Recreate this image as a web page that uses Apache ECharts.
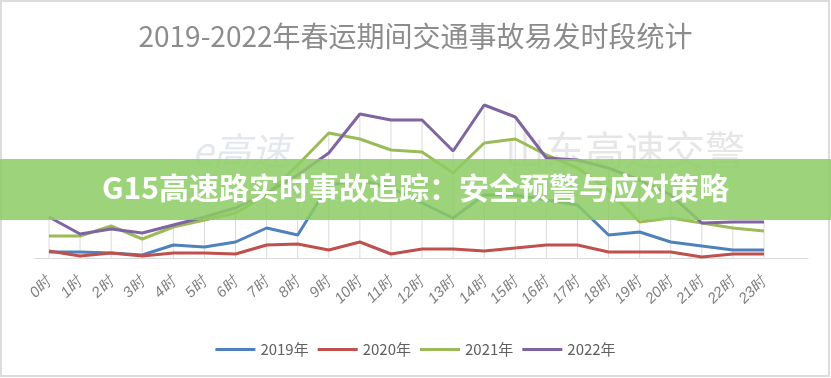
<!DOCTYPE html>
<html>
<head>
<meta charset="utf-8">
<script src="https://cdn.jsdelivr.net/npm/echarts@6/dist/echarts.min.js"></script>
<style>
  html, body { margin: 0; padding: 0; background: #fff; }
  #main { width: 831px; height: 378px; }
</style>
</head>
<body>
<div id="main"></div>
<script>
var hours = ['0时', '1时', '2时', '3时', '4时', '5时', '6时', '7时', '8时', '9时', '10时', '11时',
  '12时', '13时', '14时', '15时', '16时', '17时', '18时', '19时', '20时', '21时', '22时', '23时'];
var years = ['2019年', '2020年', '2021年', '2022年'];

var data2019 = [6, 6, 5, 3, 13, 11, 16, 30, 23, 73, 78, 70, 55, 40, 63, 63, 58, 53, 23, 26, 16, 12, 8, 8];
var data2020 = [7, 2, 5, 2, 5, 5, 4, 13, 14, 8, 16, 4, 9, 9, 7, 10, 13, 13, 6, 6, 6, 1, 4, 4];
var data2021 = [22, 22, 32, 19, 31, 38, 45, 63, 93, 125, 119, 108, 106, 85, 115, 119, 103, 90, 68, 36, 40, 35, 30, 27];
var data2022 = [41, 24, 29, 25, 33, 41, 50, 65, 83, 105, 144, 138, 138, 107, 153, 141, 100, 98, 90, 78, 63, 35, 36, 36];

var colors = ['#4f81bd', '#c0504d', '#9bbb59', '#8064a2'];

// drop lines go from the highest series down to the axis
var dropLines = hours.map(function (h, i) {
  return [i, Math.max(data2019[i], data2020[i], data2021[i], data2022[i])];
});

var myChart = echarts.init(document.getElementById('main'), null, { renderer: 'canvas' });

function lineSeries(name, values, color) {
  return {
    name: name,
    type: 'line',
    data: values,
    symbol: 'none',
    z: 3,
    lineStyle: { width: 3, color: color },
    itemStyle: { color: color }
  };
}

var option = {
  animation: false,
  backgroundColor: '#fff',
  title: {
    text: '2019-2022年春运期间交通事故易发时段统计',
    left: 'center',
    top: 17,
    textStyle: {
      fontFamily: 'Noto Sans CJK SC',
      fontWeight: 'normal',
      fontSize: 28,
      color: '#8c8c8c'
    }
  },
  legend: {
    data: years,
    top: 337,
    left: 'center',
    icon: 'rect',
    itemWidth: 40,
    itemHeight: 3,
    itemGap: 9,
    textStyle: { fontSize: 15, color: '#606060', fontFamily: 'Noto Sans CJK SC' }
  },
  grid: [
    { left: 49, right: 67, top: 98, bottom: 120 },
    { left: 35, right: 23, top: 98, bottom: 120 }
  ],
  xAxis: [
    {
      type: 'category',
      gridIndex: 0,
      data: hours,
      boundaryGap: false,
      axisLine: { show: false },
      axisTick: { show: false },
      axisLabel: {
        rotate: 45,
        margin: 21,
        fontSize: 15,
        fontStyle: 'italic',
        color: '#808080',
        interval: 0
      },
      splitLine: { show: false }
    },
    {
      type: 'value',
      gridIndex: 1,
      min: 0,
      max: 1,
      axisLine: { show: true, lineStyle: { color: '#d9d9d9', width: 1 } },
      axisTick: { show: false },
      axisLabel: { show: false },
      splitLine: { show: false }
    }
  ],
  yAxis: [
    { type: 'value', gridIndex: 0, min: 0, max: 160, show: false },
    { type: 'value', gridIndex: 1, min: 0, max: 1, show: false }
  ],
  graphic: [
    {
      type: 'rect',
      z: -10,
      shape: { x: 1, y: 1, width: 828, height: 375 },
      style: { fill: 'none', stroke: '#dcdcdc', lineWidth: 2 }
    },
    {
      type: 'text',
      z: -5,
      left: 192,
      top: 132,
      style: {
        text: 'e高速',
        fontSize: 38,
        fontStyle: 'italic',
        fontFamily: 'Noto Sans CJK SC',
        fill: '#e3e8ec'
      }
    },
    {
      type: 'text',
      z: -5,
      left: 505,
      top: 130,
      style: {
        text: '山东高速交警',
        fontSize: 40,
        fontFamily: 'Noto Sans CJK SC',
        fill: '#e6e6e6'
      }
    },
    {
      type: 'rect',
      z: 100,
      shape: { x: 0, y: 159, width: 831, height: 61 },
      style: { fill: 'rgba(140, 205, 100, 0.85)' }
    },
    {
      type: 'text',
      z: 101,
      left: 'center',
      top: 173,
      style: {
        text: 'G15高速路实时事故追踪：安全预警与应对策略',
        fontSize: 30,
        fontWeight: 'bold',
        fontFamily: 'Noto Sans CJK SC',
        fill: '#ffffff'
      }
    }
  ],
  series: [
    {
      type: 'custom',
      xAxisIndex: 0,
      yAxisIndex: 0,
      silent: true,
      z: 1,
      data: dropLines,
      encode: { x: 0, y: 1 },
      renderItem: function (params, api) {
        var top = api.coord([api.value(0), api.value(1)]);
        var bottom = api.coord([api.value(0), 0]);
        return {
          type: 'line',
          shape: { x1: top[0], y1: top[1], x2: bottom[0], y2: bottom[1] },
          style: { stroke: '#dadada', lineWidth: 1 }
        };
      }
    },
    lineSeries(years[0], data2019, colors[0]),
    lineSeries(years[1], data2020, colors[1]),
    lineSeries(years[2], data2021, colors[2]),
    lineSeries(years[3], data2022, colors[3])
  ]
};

myChart.setOption(option);
window.addEventListener('resize', myChart.resize);
</script>
</body>
</html>
